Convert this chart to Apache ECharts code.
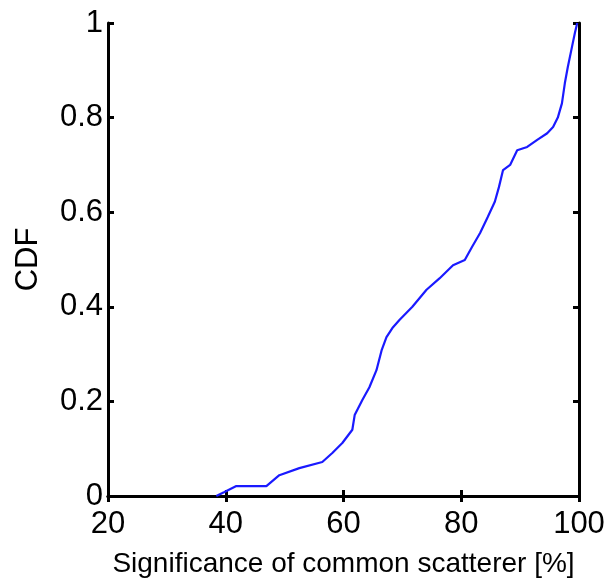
<!DOCTYPE html>
<html>
<head>
<meta charset="utf-8">
<script src="https://cdn.jsdelivr.net/npm/echarts@6/dist/echarts.min.js"></script>
<style>
  html, body { margin: 0; padding: 0; background: #fff; }
  #chart { width: 604px; height: 584px; }
</style>
</head>
<body>
<div id="chart"></div>
<script>
// Empirical CDF of the significance of the common scatterer
var significance = [38.4, 39.7, 41.8, 46.9, 49.1, 52.5, 56.4, 58.1, 59.8, 61.5,
                    61.9, 63.2, 64.4, 65.6, 66.5, 67.3, 68.3, 69.5, 71.7, 74.1,
                    76.3, 78.6, 80.6, 81.8, 83.2, 84.5, 85.7, 86.4, 87.1, 88.3,
                    89.5, 91.2, 92.9, 94.6, 95.6, 96.4, 97.1, 97.6, 98.1, 98.8,
                    99.3, 99.7];
var cdf = [0, 0.008, 0.021, 0.021, 0.044, 0.059, 0.072, 0.091, 0.112, 0.14,
           0.171, 0.203, 0.23, 0.266, 0.309, 0.336, 0.355, 0.372, 0.40, 0.436,
           0.46, 0.488, 0.499, 0.526, 0.556, 0.59, 0.622, 0.653, 0.689, 0.70,
           0.731, 0.738, 0.753, 0.767, 0.78, 0.80, 0.83, 0.873, 0.907, 0.949,
           0.979, 1.0];
var xTicks = [20, 40, 60, 80, 100];
var yTicks = [0, 0.2, 0.4, 0.6, 0.8, 1];
var xTitle = 'Significance of common scatterer [%]';
var yTitle = 'CDF';

var points = significance.map(function (v, i) { return [v, cdf[i]]; });

var font = "'Liberation Sans', Arial, Helvetica, sans-serif";
var lineStyle = { color: '#000', width: 3 };
var tickStyle = { show: true, inside: true, length: 6, lineStyle: { color: '#000', width: 3 } };

var chart = echarts.init(document.getElementById('chart'), null, { renderer: 'canvas' });
chart.setOption({
  animation: false,
  backgroundColor: '#fff',
  grid: { left: 108, right: 25, top: 23, bottom: 88, containLabel: false, outerBoundsMode: 'none' },
  xAxis: [{
    type: 'value', min: xTicks[0], max: xTicks[xTicks.length - 1], interval: 20,
    name: xTitle, nameLocation: 'middle', nameGap: 54,
    nameTextStyle: { fontFamily: font, fontSize: 28, color: '#000' },
    axisLine: { show: true, lineStyle: lineStyle },
    axisTick: tickStyle,
    axisLabel: { fontFamily: font, fontSize: 31, color: '#000', margin: 13 },
    splitLine: { show: false }
  }, {
    type: 'value', position: 'top', min: xTicks[0], max: xTicks[xTicks.length - 1], interval: 20,
    axisLine: { show: true, lineStyle: lineStyle },
    axisTick: tickStyle,
    axisLabel: { show: false },
    splitLine: { show: false }
  }],
  yAxis: [{
    type: 'value', min: yTicks[0], max: yTicks[yTicks.length - 1], interval: 0.2,
    name: yTitle, nameLocation: 'middle', nameGap: 64, nameRotate: 90,
    nameTextStyle: { fontFamily: font, fontSize: 31, color: '#000' },
    axisLine: { show: true, lineStyle: lineStyle },
    axisTick: tickStyle,
    axisLabel: { fontFamily: font, fontSize: 31, color: '#000', margin: 5 },
    splitLine: { show: false }
  }, {
    type: 'value', position: 'right', min: yTicks[0], max: yTicks[yTicks.length - 1], interval: 0.2,
    axisLine: { show: true, lineStyle: lineStyle },
    axisTick: tickStyle,
    axisLabel: { show: false },
    splitLine: { show: false }
  }],
  series: [{
    type: 'line',
    data: points,
    showSymbol: false,
    lineStyle: { color: '#1a1aff', width: 2.2 },
    clip: false
  }]
});
</script>
</body>
</html>
